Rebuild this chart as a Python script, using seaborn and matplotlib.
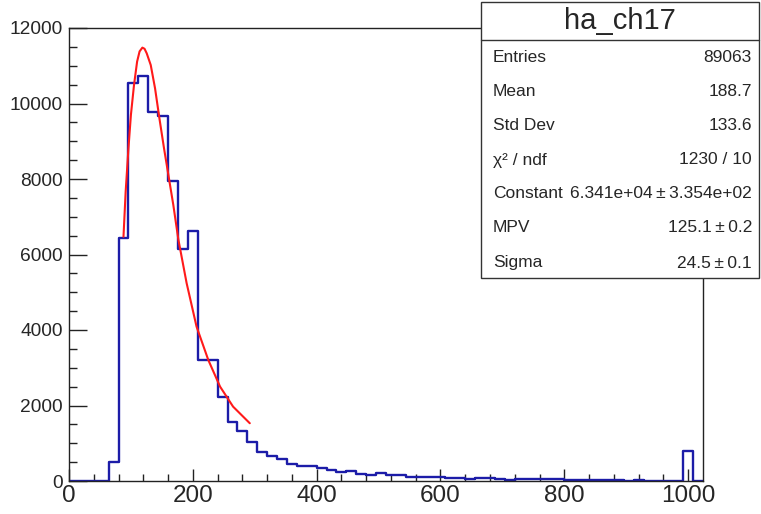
import numpy as np
import pandas as pd
import matplotlib
matplotlib.use('Agg')
import matplotlib.pyplot as plt
from matplotlib.patches import Rectangle
from matplotlib.lines import Line2D
from matplotlib.ticker import MultipleLocator
import seaborn as sns

# histogram ha_ch17: 64 bins of width 16 from 0 to 1024
bin_edges = list(range(0, 1024 + 16, 16))
counts = [0, 0, 0, 0, 500, 6450, 10550, 10730, 9780, 9680, 7950, 6140, 6630,
          3205, 3205, 2233, 1572, 1333, 1042, 759, 671, 570, 450, 410, 410,
          336, 283, 238, 274, 185, 159, 212, 150, 150, 115, 115, 115, 115,
          71, 71, 50, 70, 70, 50, 30, 45, 40, 40, 40, 40, 28, 28, 28, 28,
          28, 28, 12, 35, 12, 12, 12, 12, 803, 0]

# landau fit curve
fit_x = [88, 91.5, 96, 100, 105, 110, 114, 118.5, 122, 125.5, 132, 139, 146,
         153.5, 160.5, 168.5, 176.6, 190, 206, 225, 244, 265, 292]
fit_y = [6470, 7660, 8810, 9700, 10490, 11110, 11380, 11480, 11450, 11330,
         11020, 10400, 9610, 8810, 8110, 7310, 6400, 5240, 4090, 3205, 2500,
         1970, 1530]

stats_title = 'ha_ch17'
stats_names = ['Entries', 'Mean', 'Std Dev', 'χ² / ndf', 'Constant', 'MPV', 'Sigma']
stats_values = ['89063', '188.7', '133.6', '1230 / 10',
                '6.341e+04\u2009±\u20093.354e+02', '125.1\u2009±\u20090.2',
                '24.5\u2009±\u20090.1']

sns.set_style('white')
plt.rcParams['font.family'] = ['Liberation Sans', 'DejaVu Sans']

edges = np.array(bin_edges)
centers = (edges[:-1] + edges[1:]) / 2
df = pd.DataFrame({'x': centers, 'w': counts})
fit = pd.DataFrame({'x': fit_x, 'y': fit_y})

fig = plt.figure(figsize=(7.61, 5.14), dpi=100)
ax = fig.add_axes([69/761, 1-481/514, (703-69)/761, (481-28)/514])

sns.histplot(data=df, x='x', weights='w', bins=bin_edges, element='step',
             fill=False, color='#1c1ca8', linewidth=1.7, ax=ax)
sns.lineplot(data=fit, x='x', y='y', color='#ff1a1a', linewidth=1.5,
             estimator=None, sort=False, ax=ax)

ax.set_xlim(0, 1024)
ax.set_ylim(0, 12000)
ax.set_xlabel('')
ax.set_ylabel('')
ax.set_xticks(range(0, 1001, 200))
ax.set_yticks(range(0, 12001, 2000))
ax.xaxis.set_minor_locator(MultipleLocator(40))
ax.yaxis.set_minor_locator(MultipleLocator(500))
ax.tick_params(axis='x', which='major', direction='in', length=8.6, width=1,
               labelsize=17.5, pad=3, color='#222222', bottom=True)
ax.tick_params(axis='x', which='minor', direction='in', length=5, width=1,
               color='#222222', bottom=True)
ax.tick_params(axis='y', which='major', direction='in', length=13, width=1,
               labelsize=13.8, pad=4.5, color='#222222', left=True)
ax.tick_params(axis='y', which='minor', direction='in', length=5.8, width=1,
               color='#222222', left=True)
for s in ax.spines.values():
    s.set_color('#222222')
    s.set_linewidth(1)

# stats box
bx0, bx1 = 481/761, 759/761
by0, by1 = 1-278/514, 1-2/514
fig.patches.append(Rectangle((bx0, by0), bx1-bx0, by1-by0, transform=fig.transFigure,
                             facecolor='white', edgecolor='#333333', linewidth=1, zorder=5))
fig.lines.append(Line2D([bx0, bx1], [1-40/514, 1-40/514], transform=fig.transFigure,
                        color='#333333', linewidth=1, zorder=6))
fig.text((bx0+bx1)/2, 1-21/514, stats_title, ha='center', va='center',
         fontsize=21, zorder=7)
row_y = [58, 92, 126, 160, 194, 228, 263]
for name, val, yy in zip(stats_names, stats_values, row_y):
    fig.text(493/761, 1-yy/514, name, ha='left', va='center', fontsize=12.5, zorder=7)
    fig.text(752/761, 1-yy/514, val, ha='right', va='center', fontsize=12.5, zorder=7)

fig.savefig('out.png', dpi=100)
